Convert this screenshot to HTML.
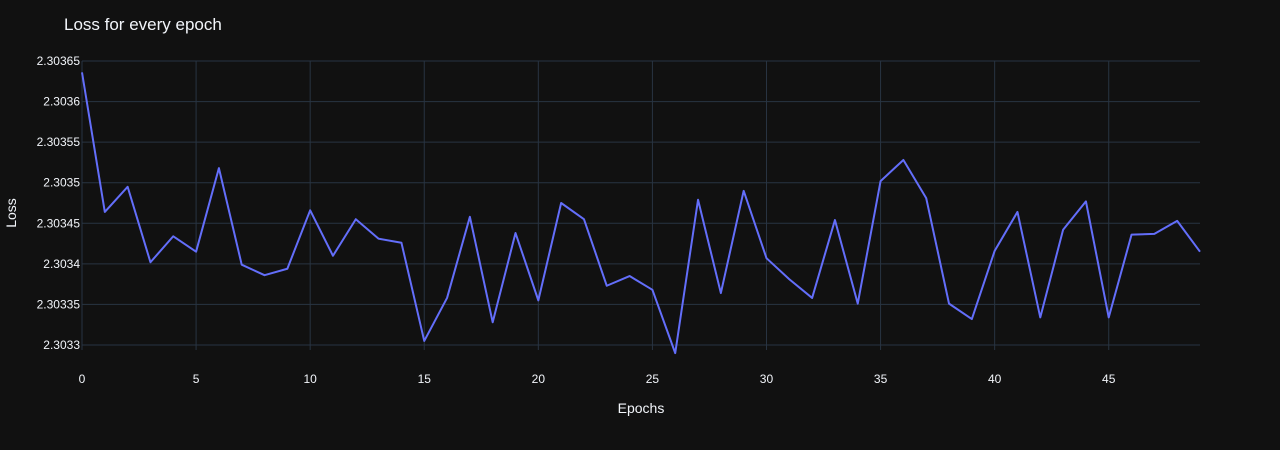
<!DOCTYPE html>
<html><head><meta charset="utf-8">
<style>
html,body{margin:0;padding:0;background:#111111;}
svg{display:block;font-family:"Liberation Sans",sans-serif;}
</style></head>
<body>
<svg id="chart" width="1280" height="450">
<rect width="1280" height="450" fill="#111111"/>
<text x="64" y="30" fill="#f2f5fa" font-size="17">Loss for every epoch</text>
<g id="grid"></g>
<g id="ticks"></g>
<text x="641" y="413" fill="#f2f5fa" font-size="14" text-anchor="middle">Epochs</text>
<text x="16" y="213" fill="#f2f5fa" font-size="14" text-anchor="middle" transform="rotate(-90 16 213)">Loss</text>
</svg>
<script>
const epochs = Array.from({length:50},(_,i)=>i);
const losses = [2.303636,2.303464,2.303495,2.303402,2.303434,2.303415,2.303518,2.303399,2.303386,2.303394,
2.303466,2.303410,2.303455,2.303431,2.303426,2.303305,2.303358,2.303458,2.303328,2.303438,
2.303355,2.303475,2.303455,2.303373,2.303385,2.303368,2.303290,2.303479,2.303364,2.303490,
2.303407,2.303381,2.303358,2.303454,2.303351,2.303502,2.303528,2.303481,2.303351,2.303332,
2.303416,2.303464,2.303334,2.303442,2.303477,2.303334,2.303436,2.303437,2.303453,2.303415];
const xTicks = [0,5,10,15,20,25,30,35,40,45];
const yTicks = [2.3033,2.30335,2.3034,2.30345,2.3035,2.30355,2.3036,2.30365];
const yTickLabels = ["2.3033","2.30335","2.3034","2.30345","2.3035","2.30355","2.3036","2.30365"];

const X0=82, X1=1200, Y0=345, Y1=61;
const xMin=0, xMax=49, yMin=2.3033, yMax=2.30365;
const xs = v => X0 + (v-xMin)/(xMax-xMin)*(X1-X0);
const ys = v => Y0 - (v-yMin)/(yMax-yMin)*(Y0-Y1);
const NS="http://www.w3.org/2000/svg";
const svg=document.getElementById('chart');
const grid=document.getElementById('grid');
const ticks=document.getElementById('ticks');

xTicks.forEach(t=>{
  const l=document.createElementNS(NS,'line');
  l.setAttribute('x1',xs(t));l.setAttribute('x2',xs(t));l.setAttribute('y1',Y1);l.setAttribute('y2',Y0+5);
  l.setAttribute('stroke','#283442');l.setAttribute('stroke-width','1');
  
  
  grid.appendChild(l);
  const tx=document.createElementNS(NS,'text');
  tx.setAttribute('x',xs(t));tx.setAttribute('y',383);tx.setAttribute('fill','#f2f5fa');
  tx.setAttribute('font-size','12');tx.setAttribute('text-anchor','middle');
  tx.textContent=t;
  
  
  ticks.appendChild(tx);
});
yTicks.forEach((t,i)=>{
  const l=document.createElementNS(NS,'line');
  l.setAttribute('x1',X0);l.setAttribute('x2',X1);l.setAttribute('y1',ys(t));l.setAttribute('y2',ys(t));
  l.setAttribute('stroke','#283442');l.setAttribute('stroke-width','1');
  
  
  grid.appendChild(l);
  const tx=document.createElementNS(NS,'text');
  tx.setAttribute('x',X0-2);tx.setAttribute('y',ys(t)+4);tx.setAttribute('fill','#f2f5fa');
  tx.setAttribute('font-size','12');tx.setAttribute('text-anchor','end');
  tx.textContent=yTickLabels[i];
  
  
  ticks.appendChild(tx);
});
const p=document.createElementNS(NS,'polyline');
p.setAttribute('points',epochs.map((e,i)=>xs(e)+','+ys(losses[i])).join(' '));
p.setAttribute('fill','none');p.setAttribute('stroke','#636efa');p.setAttribute('stroke-width','2');
p.setAttribute('stroke-linejoin','round');


svg.appendChild(p);
</script>
</body></html>
